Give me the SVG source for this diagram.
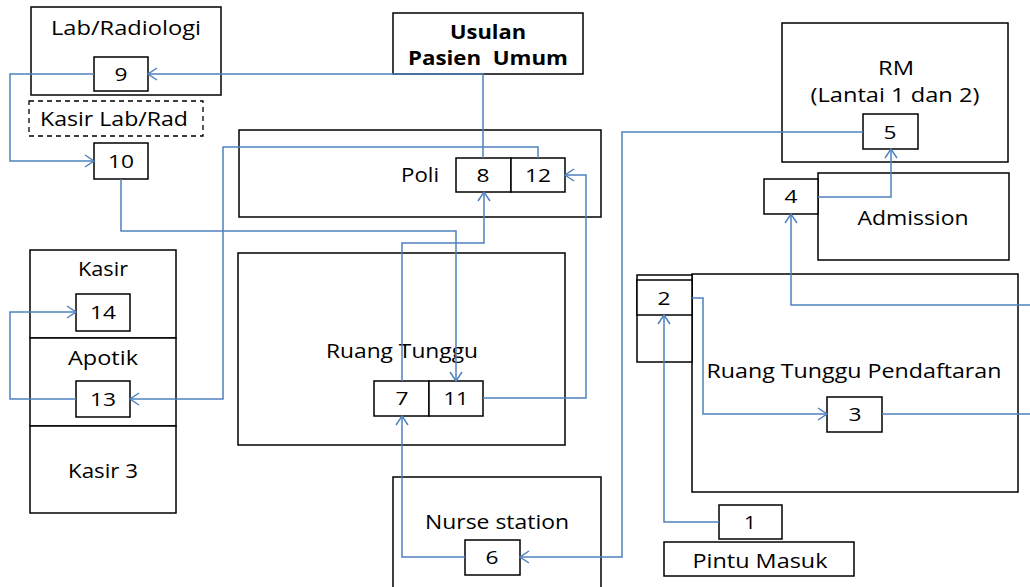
<svg xmlns="http://www.w3.org/2000/svg" width="1030" height="587" viewBox="0 0 1030 587">
<style>
.b{fill:#fff;stroke:#000;stroke-width:1.5}
.d{fill:#fff;stroke:#000;stroke-width:1.3;stroke-dasharray:5 4}
.t{font-family:"Open Sans","Noto Sans",sans-serif;font-size:19.5px;fill:#000;text-anchor:middle;dominant-baseline:central}
.n{font-size:18px}
.bt{font-weight:bold}
.c{fill:none;stroke:#4F81BD;stroke-width:1.5}
</style>
<defs>
<marker id="a" markerUnits="userSpaceOnUse" markerWidth="12" markerHeight="14" refX="10" refY="7" orient="auto">
<path d="M1,1 L10,7 L1,13" fill="none" stroke="#4F81BD" stroke-width="1.5"/>
</marker>
</defs>
<rect width="1030" height="587" fill="#fff"/>
<g id="lab"><rect class="b" x="31" y="7" width="190" height="88"/><text class="t" x="126" y="27" textLength="150" lengthAdjust="spacingAndGlyphs">Lab/Radiologi</text></g>
<g id="kasirlab"><rect class="d" x="29" y="101" width="174" height="35"/><text class="t" x="114" y="118" textLength="148" lengthAdjust="spacingAndGlyphs">Kasir Lab/Rad</text></g>
<g id="usulan"><rect class="b" x="393" y="13" width="190" height="61"/><text class="t bt" x="488" y="31" textLength="76" lengthAdjust="spacingAndGlyphs">Usulan</text><text class="t bt" x="488" y="57" xml:space="preserve" textLength="160" lengthAdjust="spacingAndGlyphs">Pasien  Umum</text></g>
<g id="poli"><rect class="b" x="239" y="130" width="362" height="87"/><text class="t" x="420" y="174" textLength="38" lengthAdjust="spacingAndGlyphs">Poli</text></g>
<g id="ruangtunggu"><rect class="b" x="238" y="253" width="327" height="192"/><text class="t" x="402" y="350" textLength="152" lengthAdjust="spacingAndGlyphs">Ruang Tunggu</text></g>
<g id="kasir"><rect class="b" x="30" y="250" width="146" height="88"/><text class="t" x="103" y="268" textLength="50" lengthAdjust="spacingAndGlyphs">Kasir</text></g>
<g id="apotik"><rect class="b" x="30" y="338" width="146" height="88"/><text class="t" x="103" y="357" textLength="70" lengthAdjust="spacingAndGlyphs">Apotik</text></g>
<g id="kasir3"><rect class="b" x="30" y="426" width="146" height="87"/><text class="t" x="103" y="470" textLength="70" lengthAdjust="spacingAndGlyphs">Kasir 3</text></g>
<g id="nurse"><rect class="b" x="393" y="477" width="208" height="120"/><text class="t" x="497" y="521" textLength="144" lengthAdjust="spacingAndGlyphs">Nurse station</text></g>
<g id="rm"><rect class="b" x="782" y="23" width="226" height="139"/><text class="t" x="896" y="67" textLength="36" lengthAdjust="spacingAndGlyphs">RM</text><text class="t" x="895" y="94" textLength="169" lengthAdjust="spacingAndGlyphs">(Lantai 1 dan 2)</text></g>
<g id="admission"><rect class="b" x="818" y="173" width="191" height="87"/><text class="t" x="913" y="217" textLength="111" lengthAdjust="spacingAndGlyphs">Admission</text></g>
<g id="pendaftaran"><rect class="b" x="692" y="274" width="326" height="218"/><text class="t" x="854" y="370" textLength="295" lengthAdjust="spacingAndGlyphs">Ruang Tunggu Pendaftaran</text></g>
<g id="loket"><rect class="b" x="637" y="275" width="55" height="87"/></g>
<g id="pintu"><rect class="b" x="664" y="542" width="190" height="34"/><text class="t" x="760" y="560" textLength="135" lengthAdjust="spacingAndGlyphs">Pintu Masuk</text></g>
<g id="n1"><rect class="b" x="719" y="505" width="63" height="34"/><text class="t n" x="750" y="522" textLength="12" lengthAdjust="spacingAndGlyphs">1</text></g>
<g id="n2"><rect class="b" x="637" y="280" width="55" height="35"/><text class="t n" x="664" y="298" textLength="13" lengthAdjust="spacingAndGlyphs">2</text></g>
<g id="n3"><rect class="b" x="827" y="397" width="55" height="35"/><text class="t n" x="855" y="414" textLength="13" lengthAdjust="spacingAndGlyphs">3</text></g>
<g id="n4"><rect class="b" x="764" y="179" width="54" height="35"/><text class="t n" x="791" y="196" textLength="13" lengthAdjust="spacingAndGlyphs">4</text></g>
<g id="n5"><rect class="b" x="863" y="114" width="55" height="35"/><text class="t n" x="890" y="132" textLength="13" lengthAdjust="spacingAndGlyphs">5</text></g>
<g id="n6"><rect class="b" x="465" y="540" width="55" height="35"/><text class="t n" x="492" y="557" textLength="13" lengthAdjust="spacingAndGlyphs">6</text></g>
<g id="n7"><rect class="b" x="374" y="381" width="55" height="35"/><text class="t n" x="402" y="398" textLength="13" lengthAdjust="spacingAndGlyphs">7</text></g>
<g id="n11"><rect class="b" x="429" y="381" width="54" height="35"/><text class="t n" x="456" y="398" textLength="25" lengthAdjust="spacingAndGlyphs">11</text></g>
<g id="n8"><rect class="b" x="456" y="158" width="55" height="34"/><text class="t n" x="483" y="175" textLength="13" lengthAdjust="spacingAndGlyphs">8</text></g>
<g id="n12"><rect class="b" x="511" y="158" width="54" height="34"/><text class="t n" x="538" y="175" textLength="26" lengthAdjust="spacingAndGlyphs">12</text></g>
<g id="n9"><rect class="b" x="94" y="57" width="54" height="34"/><text class="t n" x="121" y="74" textLength="13" lengthAdjust="spacingAndGlyphs">9</text></g>
<g id="n10"><rect class="b" x="94" y="143" width="54" height="36"/><text class="t n" x="121" y="161" textLength="26" lengthAdjust="spacingAndGlyphs">10</text></g>
<g id="n13"><rect class="b" x="76" y="381" width="54" height="36"/><text class="t n" x="103" y="399" textLength="26" lengthAdjust="spacingAndGlyphs">13</text></g>
<g id="n14"><rect class="b" x="76" y="294" width="54" height="37"/><text class="t n" x="103" y="312" textLength="26" lengthAdjust="spacingAndGlyphs">14</text></g>
<g id="connectors">
<path class="c" d="M719,522 H664 V315" marker-end="url(#a)"/>
<path class="c" d="M692,298 H703 V414 H827" marker-end="url(#a)"/>
<path class="c" d="M882,414 H1030"/>
<path class="c" d="M1030,305 H791 V214" marker-end="url(#a)"/>
<path class="c" d="M818,197 H891 V149" marker-end="url(#a)"/>
<path class="c" d="M863,132 H622 V557 H520" marker-end="url(#a)"/>
<path class="c" d="M465,557 H402 V416" marker-end="url(#a)"/>
<path class="c" d="M402,381 V243 H484 V192" marker-end="url(#a)"/>
<path class="c" d="M483,158 V74 H148" marker-end="url(#a)"/>
<path class="c" d="M94,74 H10 V161 H94" marker-end="url(#a)"/>
<path class="c" d="M121,179 V231 H456 V381" marker-end="url(#a)"/>
<path class="c" d="M483,398 H586 V175 H565" marker-end="url(#a)"/>
<path class="c" d="M538,158 V147 H223 V399 H130" marker-end="url(#a)"/>
<path class="c" d="M76,399 H10 V312 H76" marker-end="url(#a)"/>
</g>
</svg>
